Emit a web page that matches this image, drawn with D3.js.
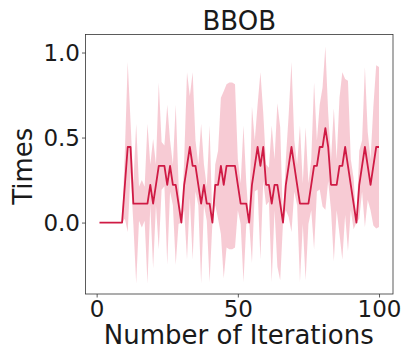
<!DOCTYPE html>
<html><head><meta charset="utf-8">
<script src="https://cdn.jsdelivr.net/npm/d3@7/dist/d3.min.js"></script>
<style>body{margin:0;background:#fff}svg{display:block}text{font-family:"DejaVu Sans",sans-serif;fill:#1a1a1a}</style>
</head><body><svg id="c" width="408" height="350"></svg>
<script>
const title = "BBOB";
const xLabel = "Number of Iterations";
const yLabel = "Times";
const xTicks = [0, 50, 100];
const yTicks = [0.0, 0.5, 1.0];
// mean counts (in ninths) for iterations 1..100
const meanNinths = [0,0,0,0,0,0,0,0,0,2, 4,4,1,1,1,1,1,1,2,1, 2,3,3,3,2,3,2,2,1,0, 2,3,4,3,3,2,1,2,1,1, 0,2,2,3,2,3,3,3,3,2, 1,1,1,0,2,3,4,3,4,2, 2,1,2,2,1,0,2,3,4,3, 2,1,1,1,1,2,3,3,4,4, 5,4,2,2,2,3,3,4,3,2, 1,0,2,3,4,3,2,3,4,4];
const stdDev = [0,0,0,0,0,0,0,0,0,0.20, 0.50,0.15,0.12,0.47,0.10,0.14,0.10,0.47,0.12,0.38, 0.12,0.49,0.14,0.12,0.47,0.15,0.12,0.47,0.12,0, 0.15,0.55,0.30,0.55,0.15,0.12,0.47,0.12,0.10,0.46, 0,0.12,0.20,0.40,0.55,0.48,0.49,0.49,0.48,0.15, 0.12,0.46,0.12,0,0.46,0.15,0.25,0.55,0.20,0.12, 0.10,0.46,0.15,0.48,0.45,0,0.15,0.30,0.50,0.15, 0.12,0.46,0.12,0.45,0.12,0.15,0.49,0.15,0.25,0.35, 0.48,0.20,0.15,0.45,0.15,0.40,0.55,0.40,0.50,0.15, 0.15,0,0.20,0.15,0.47,0.20,0.15,0.35,0.48,0.47];
const iterations = d3.range(1, 101);

const data = iterations.map((it, i) => ({x: it, m: meanNinths[i] / 9, s: stdDev[i]}));
const svg = d3.select("#c");
const L = 85.5, R = 393, T = 34.5, B = 294;
const x = d3.scaleLinear().domain([-3.95, 104.95]).range([L, R]);
const y = d3.scaleLinear().domain([-0.42, 1.106]).range([B, T]);

svg.append("path").datum(data)
  .attr("d", d3.area().x(d => x(d.x)).y0(d => y(d.m - d.s)).y1(d => y(d.m + d.s)))
  .attr("fill", "#dc143c").attr("fill-opacity", 0.22).attr("stroke", "none");
svg.append("path").datum(data)
  .attr("d", d3.line().x(d => x(d.x)).y(d => y(d.m)))
  .attr("fill", "none").attr("stroke", "#cf1a44").attr("stroke-width", 1.8).attr("stroke-linejoin", "round");

const gx = svg.append("g").attr("transform", `translate(0,${B})`)
  .call(d3.axisBottom(x).tickValues(xTicks).tickFormat(d3.format("d")).tickSize(3.5).tickPadding(3));
const gy = svg.append("g").attr("transform", `translate(${L},0)`)
  .call(d3.axisLeft(y).tickValues(yTicks).tickFormat(d3.format(".1f")).tickSize(3.5).tickPadding(2));
[gx, gy].forEach(g => { g.select(".domain").remove(); g.selectAll("line").attr("stroke", "#333").attr("stroke-width", 0.8);
  g.selectAll("text").style("font-size", "23px").style("font-family", "DejaVu Sans").attr("fill", "#1a1a1a"); });
gx.selectAll("text").attr("dy", "0.72em");
gy.selectAll("text").attr("dy", "0.36em");
svg.append("rect").attr("x", L).attr("y", T).attr("width", R - L).attr("height", B - T)
  .attr("fill", "none").attr("stroke", "#333").attr("stroke-width", 0.8);

svg.append("text").attr("x", (L + R) / 2).attr("y", 30).attr("text-anchor", "middle").style("font-size", "26px").text(title);
svg.append("text").attr("x", (L + R) / 2 - 0.5).attr("y", 344).attr("text-anchor", "middle").style("font-size", "26px").text(xLabel);
svg.append("text").attr("transform", `translate(32,${(T + B) / 2 + 2}) rotate(-90)`).attr("text-anchor", "middle").style("font-size", "26px").text(yLabel);
</script></body></html>
